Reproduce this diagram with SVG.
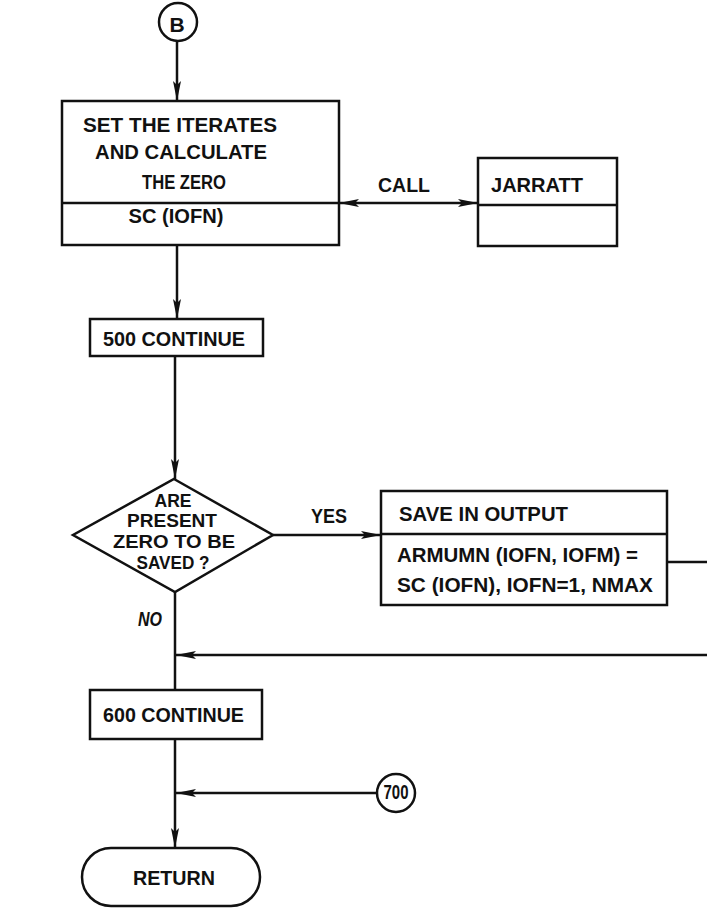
<svg xmlns="http://www.w3.org/2000/svg" width="707" height="909" viewBox="0 0 707 909">
<defs>
<marker id="ah" viewBox="0 0 20 10" refX="20" refY="5" markerWidth="20" markerHeight="10" markerUnits="userSpaceOnUse" orient="auto">
<path d="M0,1 L20,5 L0,9 L4,5 Z" fill="#111"/>
</marker>
<marker id="ahs" viewBox="0 0 20 10" refX="0" refY="5" markerWidth="20" markerHeight="10" markerUnits="userSpaceOnUse" orient="auto">
<path d="M20,1 L0,5 L20,9 L16,5 Z" fill="#111"/>
</marker>
</defs>
<style>
.s{fill:none;stroke:#111;stroke-width:2.5}
.b{fill:#fff;stroke:#111;stroke-width:2.5}
text{font-family:"Liberation Sans",Arial,sans-serif;font-weight:bold;font-size:21px;fill:#111}
.c{text-anchor:middle}
.d{font-size:18px}
</style>
<rect width="707" height="909" fill="#fff"/>
<g id="connectors">
<line class="s" x1="177" y1="42" x2="177" y2="101" marker-end="url(#ah)"/>
<line class="s" x1="339" y1="203" x2="478" y2="203" marker-start="url(#ahs)" marker-end="url(#ah)"/>
<line class="s" x1="177" y1="245" x2="177" y2="319" marker-end="url(#ah)"/>
<line class="s" x1="175" y1="356" x2="175" y2="479" marker-end="url(#ah)"/>
<line class="s" x1="273" y1="535" x2="381" y2="535" marker-end="url(#ah)"/>
<line class="s" x1="667" y1="562" x2="707" y2="562"/>
<line class="s" x1="175" y1="592" x2="175" y2="690"/>
<line class="s" x1="707" y1="655" x2="176" y2="655" marker-end="url(#ah)"/>
<line class="s" x1="175" y1="739" x2="175" y2="848" marker-end="url(#ah)"/>
<line class="s" x1="377" y1="793" x2="176" y2="793" marker-end="url(#ah)"/>
</g>
<g id="nodeB">
<circle class="b" cx="178" cy="22" r="19"/>
<text class="c" x="177" y="32" font-size="18">B</text>
</g>
<g id="setIterates">
<rect class="b" x="62" y="101" width="277" height="144"/>
<line class="s" x1="62" y1="203" x2="339" y2="203"/>
<text class="c" x="180" y="132" textLength="194" lengthAdjust="spacingAndGlyphs">SET THE ITERATES</text>
<text class="c" x="181" y="159" textLength="172" lengthAdjust="spacingAndGlyphs">AND CALCULATE</text>
<text class="c" x="184" y="189" textLength="84" lengthAdjust="spacingAndGlyphs">THE ZERO</text>
<text class="c" x="176" y="223" textLength="95" lengthAdjust="spacingAndGlyphs">SC (IOFN)</text>
</g>
<g id="callLabel">
<text x="378" y="192" textLength="52" lengthAdjust="spacingAndGlyphs">CALL</text>
</g>
<g id="jarratt">
<rect class="b" x="478" y="158" width="139" height="88"/>
<line class="s" x1="478" y1="205" x2="617" y2="205"/>
<text x="491" y="192" textLength="92" lengthAdjust="spacingAndGlyphs">JARRATT</text>
</g>
<g id="c500">
<rect class="b" x="90" y="319" width="173" height="37"/>
<text x="103" y="346" textLength="142" lengthAdjust="spacingAndGlyphs">500 CONTINUE</text>
</g>
<g id="decision">
<polygon class="b" points="174,479 273,535 175,592 73,535"/>
<text class="c d" x="173" y="507" textLength="37" lengthAdjust="spacingAndGlyphs">ARE</text>
<text class="c d" x="172" y="527" textLength="90" lengthAdjust="spacingAndGlyphs">PRESENT</text>
<text class="c d" x="174" y="548" textLength="122" lengthAdjust="spacingAndGlyphs">ZERO TO BE</text>
<text class="c d" x="173" y="569" textLength="73" lengthAdjust="spacingAndGlyphs">SAVED ?</text>
</g>
<g id="labels">
<text x="311" y="523" textLength="36" lengthAdjust="spacingAndGlyphs">YES</text>
<text x="138" y="626" font-style="italic" textLength="24" lengthAdjust="spacingAndGlyphs">NO</text>
</g>
<g id="saveOutput">
<rect class="b" x="381" y="491" width="286" height="114"/>
<line class="s" x1="381" y1="534" x2="667" y2="534"/>
<text x="399" y="521" textLength="169" lengthAdjust="spacingAndGlyphs">SAVE IN OUTPUT</text>
<text x="397" y="562" textLength="241" lengthAdjust="spacingAndGlyphs">ARMUMN (IOFN, IOFM) =</text>
<text x="397" y="592" textLength="256" lengthAdjust="spacingAndGlyphs">SC (IOFN), IOFN=1, NMAX</text>
</g>
<g id="c600">
<rect class="b" x="90" y="690" width="172" height="49"/>
<text x="103" y="722" textLength="141" lengthAdjust="spacingAndGlyphs">600 CONTINUE</text>
</g>
<g id="node700">
<circle class="b" cx="396" cy="793" r="19"/>
<text class="c" x="396" y="799" font-size="17" textLength="25" lengthAdjust="spacingAndGlyphs">700</text>
</g>
<g id="return">
<rect class="b" x="82" y="848" width="178" height="58" rx="29"/>
<text x="133" y="885" textLength="82" lengthAdjust="spacingAndGlyphs">RETURN</text>
</g>
</svg>
